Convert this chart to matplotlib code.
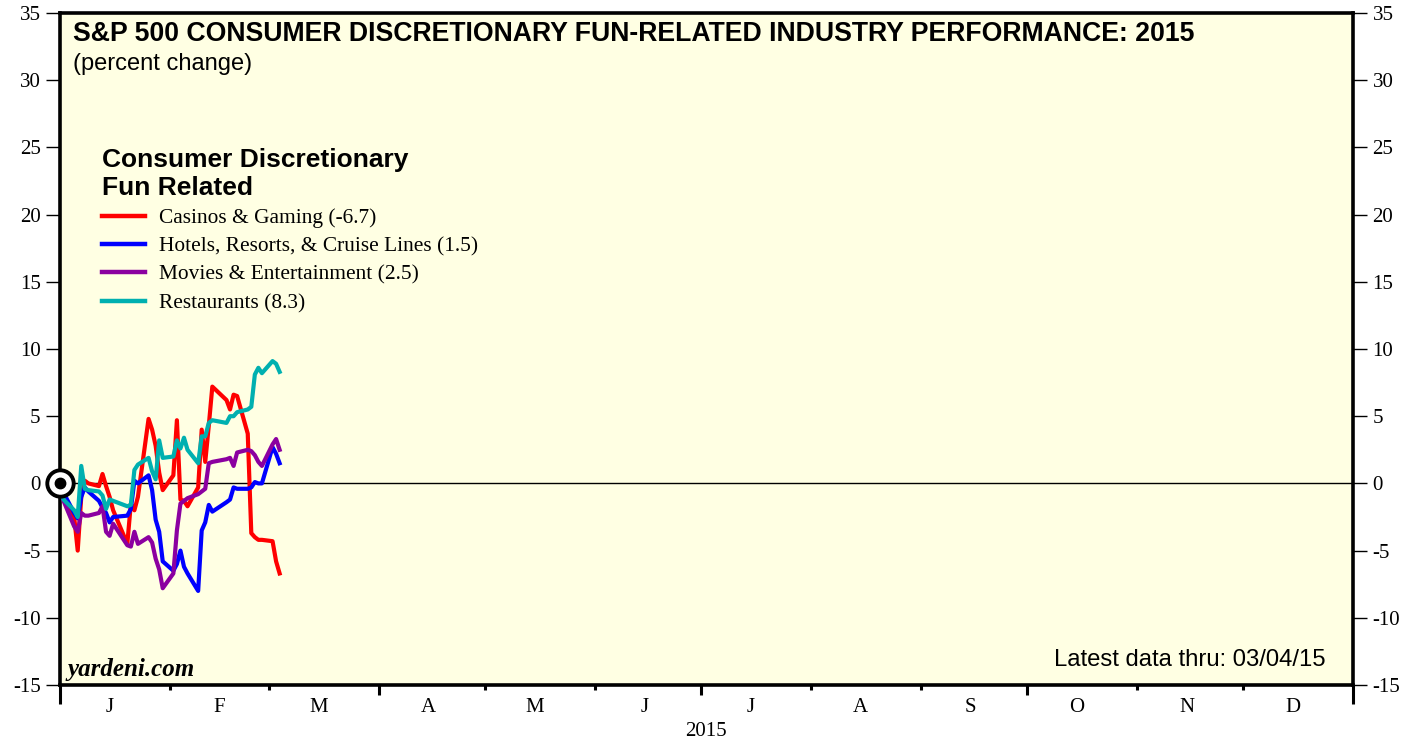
import matplotlib

matplotlib.use("Agg")
import matplotlib.pyplot as plt
import matplotlib.dates as mdates
import matplotlib.ticker as ticker
import pandas as pd

plt.rcParams["axes.unicode_minus"] = False

# YTD percent change, S&P 500 consumer discretionary "fun related" industries
dates = [
    "2015-01-01", "2015-01-02", "2015-01-05", "2015-01-06", "2015-01-07", "2015-01-08",
    "2015-01-09", "2015-01-12", "2015-01-13", "2015-01-14", "2015-01-15", "2015-01-16",
    "2015-01-20", "2015-01-21", "2015-01-22", "2015-01-23", "2015-01-26", "2015-01-27",
    "2015-01-28", "2015-01-29", "2015-01-30", "2015-02-02", "2015-02-03", "2015-02-04",
    "2015-02-05", "2015-02-06", "2015-02-09", "2015-02-10", "2015-02-11", "2015-02-12",
    "2015-02-13", "2015-02-17", "2015-02-18", "2015-02-19", "2015-02-20", "2015-02-23",
    "2015-02-24", "2015-02-25", "2015-02-26", "2015-02-27", "2015-03-02", "2015-03-03",
    "2015-03-04",
]
casinos = [
    0.0, -1.0, -2.5, -5.0, -1.0, 0.2, 0.0, -0.2, 0.7, -0.2, -1.0, -2.0,
    -4.5, -1.5, -2.0, -1.0, 4.8, 4.0, 2.8, 0.8, -0.5, 0.6, 4.7, -1.2,
    -1.3, -1.7, -0.3, 4.0, 1.6, 4.3, 7.2, 6.2, 5.5, 6.6, 6.5, 3.7,
    -3.7, -4.0, -4.2, -4.2, -4.3, -5.8, -6.7,
]
hotels = [
    0.0, -0.7, -2.2, -2.6, -1.0, -0.3, -0.6, -1.3, -1.8, -2.2, -2.9, -2.5,
    -2.4, -1.9, 0.2, 0.0, 0.6, -0.5, -2.7, -3.6, -5.8, -6.5, -6.0, -5.0,
    -6.2, -6.7, -8.0, -3.5, -2.9, -1.6, -2.1, -1.4, -1.2, -0.3, -0.4, -0.4,
    -0.3, 0.1, 0.0, 0.0, 2.7, 2.2, 1.5,
]
movies = [
    0.0, -1.3, -3.2, -3.6, -2.2, -2.4, -2.4, -2.2, -1.7, -3.6, -3.9, -3.0,
    -4.6, -4.7, -3.6, -4.5, -4.0, -4.4, -5.6, -6.4, -7.8, -6.7, -3.5, -1.5,
    -1.3, -1.1, -0.8, -0.6, -0.4, 1.5, 1.6, 1.8, 1.9, 1.3, 2.3, 2.5,
    2.4, 2.1, 1.6, 1.3, 2.9, 3.3, 2.5,
]
restaurants = [
    0.0, -1.2, -2.0, -2.5, 1.3, -0.4, -0.5, -0.6, -0.9, -1.9, -1.2, -1.3,
    -1.7, -1.6, 1.0, 1.4, 1.9, 0.9, 0.3, 3.2, 1.9, 2.0, 3.2, 2.6,
    3.4, 2.5, 1.5, 3.5, 3.5, 4.5, 4.7, 4.5, 5.0, 5.0, 5.3, 5.5,
    5.7, 8.1, 8.6, 8.2, 9.1, 8.9, 8.3,
]
series_labels = [
    "Casinos & Gaming (-6.7)",
    "Hotels, Resorts, & Cruise Lines (1.5)",
    "Movies & Entertainment (2.5)",
    "Restaurants (8.3)",
]
series_colors = ["#ff0000", "#0000ff", "#8b00a0", "#00b0b0"]
month_labels = ["J", "F", "M", "A", "M", "J", "J", "A", "S", "O", "N", "D"]
y_ticks = list(range(-15, 40, 5))

SANS = "Liberation Sans"
SERIF = "Liberation Serif"
bg = "#ffffe3"

x = pd.to_datetime(dates)
year_start = pd.Timestamp("2015-01-01")
year_end = pd.Timestamp("2016-01-01")

fig = plt.figure(figsize=(14.19, 7.42), dpi=100)
fig.patch.set_facecolor("white")
ax = fig.add_axes([60 / 1419, 1 - 685 / 742, 1293 / 1419, 672 / 742])
ax.set_facecolor(bg)

for vals, lab, col in zip([casinos, hotels, movies, restaurants], series_labels, series_colors):
    ax.plot(x, vals, color=col, linewidth=3.0, label=lab, zorder=3)

ax.axhline(0, color="black", linewidth=1.0, zorder=2)
# base point marker
ax.plot([x[0]], [0], marker="o", markersize=19, markerfacecolor="white",
        markeredgecolor="black", markeredgewidth=2.8, clip_on=False, zorder=5)
ax.plot([x[0]], [0], marker="o", markersize=7.5, color="black", clip_on=False, zorder=6)

ax.set_xlim(year_start, year_end)
ax.set_ylim(-15, 35)

for side in ["left", "right", "top", "bottom"]:
    ax.spines[side].set_linewidth(2.6)

# y axis on both sides
ax.yaxis.set_major_locator(ticker.FixedLocator(y_ticks))
ax.tick_params(axis="y", which="major", direction="out", length=10, width=1.0,
               labelsize=15, pad=4, left=True, right=True, labelleft=True, labelright=True)
for lbl in ax.get_yticklabels(which="both"):
    lbl.set_family(SERIF)

# month ticks (short), month letters centred mid-month
month_starts = pd.date_range("2015-01-01", "2015-12-01", freq="MS")
regular = [m for m in month_starts if m.month not in (1, 4, 7, 10)]
ax.xaxis.set_major_locator(ticker.FixedLocator(mdates.date2num(regular)))
ax.xaxis.set_major_formatter(ticker.NullFormatter())
mids = [m + pd.Timedelta(days=14) for m in month_starts]
ax.xaxis.set_minor_locator(ticker.FixedLocator(mdates.date2num(mids)))
ax.xaxis.set_minor_formatter(ticker.FixedFormatter(month_labels))
ax.tick_params(axis="x", which="major", direction="out", length=3.5, width=2.2)
ax.tick_params(axis="x", which="minor", length=0, pad=9.5, labelsize=15)
for lbl in ax.get_xticklabels(which="minor"):
    lbl.set_family(SERIF)

# quarter ticks
q_ax = ax.secondary_xaxis("bottom")
q_ax.set_xticks(mdates.date2num([pd.Timestamp("2015-04-01"), pd.Timestamp("2015-07-01"),
                                 pd.Timestamp("2015-10-01")]))
q_ax.tick_params(direction="out", length=7, width=2.2, labelbottom=False)
q_ax.spines["bottom"].set_visible(False)
# year boundary ticks
y_ax = ax.secondary_xaxis("bottom")
y_ax.set_xticks(mdates.date2num([year_start, year_end]))
y_ax.tick_params(direction="out", length=14, width=2.2, labelbottom=False)
y_ax.spines["bottom"].set_visible(False)

fig.text(706 / 1419, 1 - 731 / 742, "2015", ha="center", va="center",
         fontsize=15, family=SERIF)

ax.text(0.010, 0.959, "S&P 500 CONSUMER DISCRETIONARY FUN-RELATED INDUSTRY PERFORMANCE: 2015",
        transform=ax.transAxes, fontsize=19.2, fontweight="bold", family=SANS, va="baseline")
ax.text(0.010, 0.915, "(percent change)", transform=ax.transAxes, fontsize=17,
        family=SANS, va="baseline")

leg = ax.legend(loc="upper left", bbox_to_anchor=(0.0325, 0.799), frameon=False,
                title="Consumer Discretionary\nFun Related", alignment="left",
                title_fontproperties={"family": SANS, "weight": "bold", "size": 19},
                prop={"family": SERIF, "size": 15.4}, handlelength=2.0, handletextpad=0.65,
                labelspacing=0.39, borderpad=0, borderaxespad=0)
for h in leg.get_lines():
    h.set_linewidth(3.2)

ax.text(0.006, 0.013, "yardeni.com", transform=ax.transAxes, fontsize=18,
        family=SERIF, style="italic", fontweight="bold", va="baseline")
ax.text(0.979, 0.028, "Latest data thru: 03/04/15", transform=ax.transAxes,
        fontsize=17.2, family=SANS, ha="right", va="baseline")

fig.savefig("out.png", dpi=100, facecolor="white")
